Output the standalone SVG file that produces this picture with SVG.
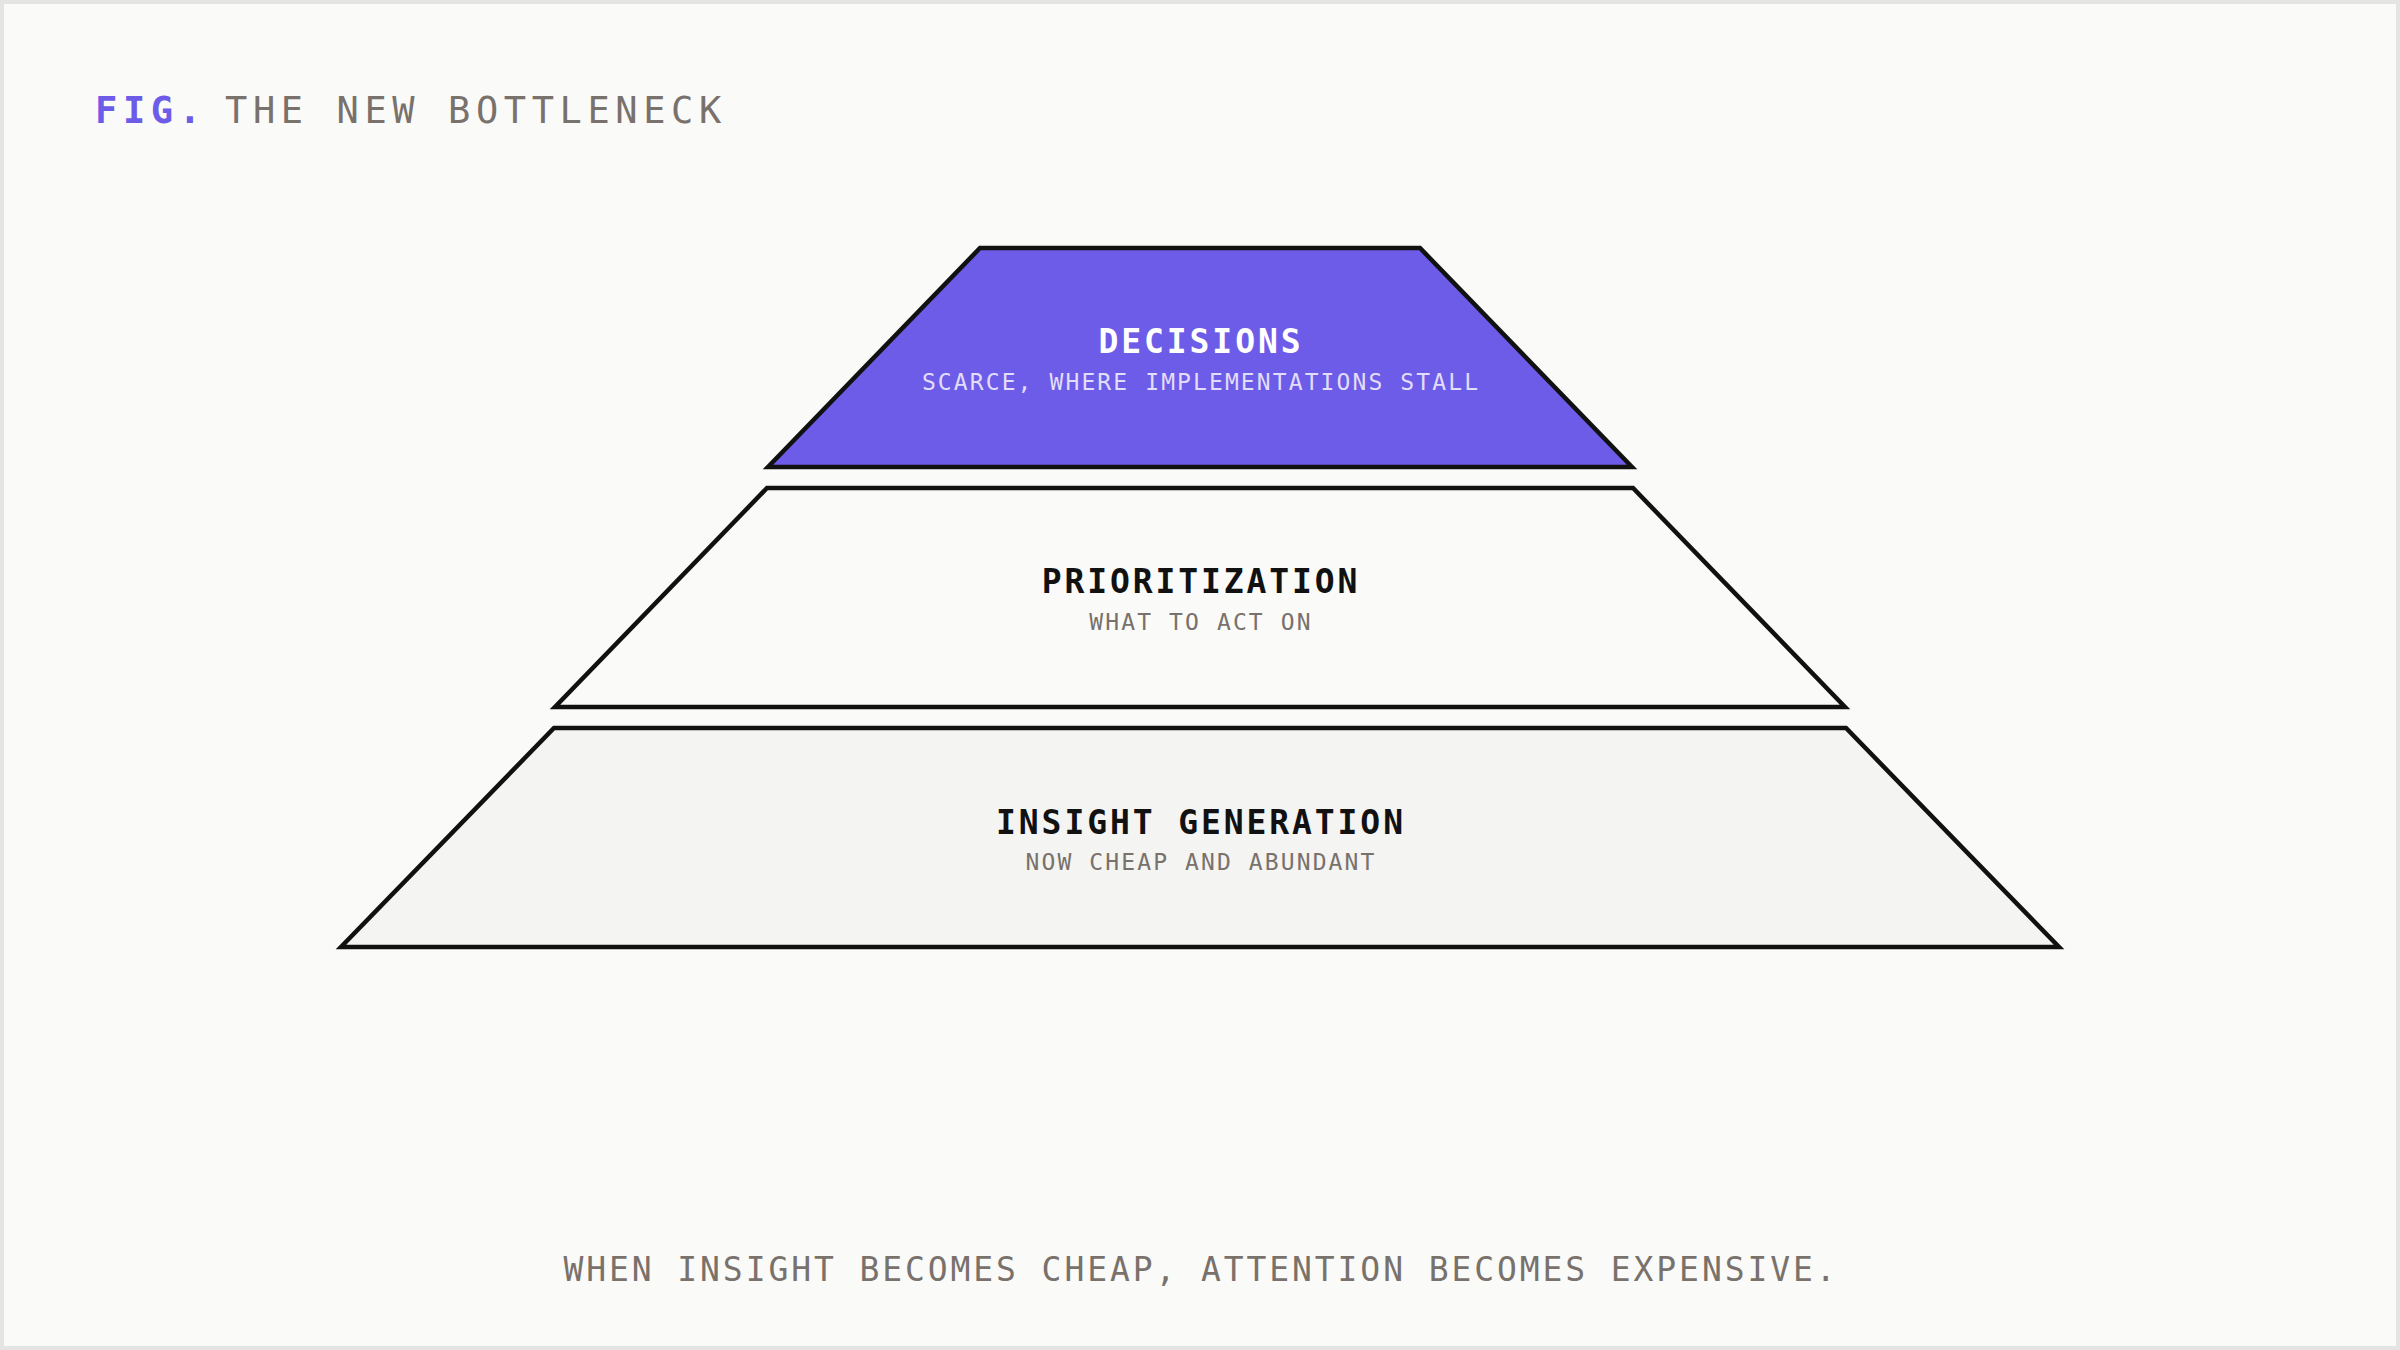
<svg xmlns="http://www.w3.org/2000/svg" width="2400" height="1350" viewBox="0 0 2400 1350">
  <style>
    .mono { font-family: "DejaVu Sans Mono", "Liberation Mono", monospace; }
    .tier { stroke: #111111; stroke-width: 4.5; stroke-linejoin: miter; }
    .label { font-size: 33px; font-weight: 700; letter-spacing: 2.9px; text-anchor: middle; }
    .sub { font-size: 23px; letter-spacing: 2.1px; text-anchor: middle; fill: #79716b; }
  </style>
  <rect x="2" y="2" width="2396" height="1346" fill="#fafaf8" stroke="#e4e4e2" stroke-width="4"/>

  <g id="title" class="mono">
    <text x="95" y="123" font-size="37" font-weight="700" letter-spacing="5.6" fill="#6c5ce7">FIG.</text>
    <text x="225" y="123" font-size="37" letter-spacing="5.6" fill="#79716b">THE NEW BOTTLENECK</text>
  </g>

  <g id="connectors"></g>

  <g id="node-decisions">
    <polygon class="tier" points="980,248 1420,248 1632,467 768,467" fill="#6c5ce7"/>
    <text class="mono label" x="1201" y="353" fill="#ffffff">DECISIONS</text>
    <text class="mono sub" x="1201" y="390" style="fill:#e2ddfa">SCARCE, WHERE IMPLEMENTATIONS STALL</text>
  </g>

  <g id="node-prioritization">
    <polygon class="tier" points="767,488 1633,488 1845,707 555,707" fill="#fafaf8"/>
    <text class="mono label" x="1201" y="593" fill="#111111">PRIORITIZATION</text>
    <text class="mono sub" x="1201" y="630">WHAT TO ACT ON</text>
  </g>

  <g id="node-insight">
    <polygon class="tier" points="554,728 1846,728 2059,947 341,947" fill="#f4f4f2"/>
    <text class="mono label" x="1201" y="834" fill="#111111">INSIGHT GENERATION</text>
    <text class="mono sub" x="1201" y="870">NOW CHEAP AND ABUNDANT</text>
  </g>

  <g id="caption">
    <text class="mono" x="1201" y="1281" font-size="33" letter-spacing="2.9" text-anchor="middle" fill="#79716b">WHEN INSIGHT BECOMES CHEAP, ATTENTION BECOMES EXPENSIVE.</text>
  </g>
</svg>
